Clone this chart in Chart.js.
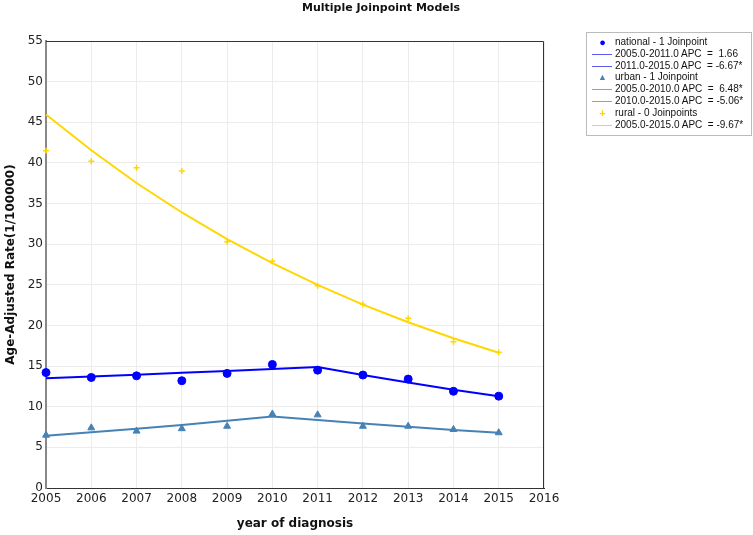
<!DOCTYPE html>
<html>
<head>
<meta charset="utf-8">
<script src="https://cdn.jsdelivr.net/npm/chart.js@4.4.0/dist/chart.umd.min.js"></script>
<style>
    body { margin: 0; background: #fff; }
    #wrap { position: relative; width: 753px; height: 535px; }
    #title { position: absolute; left: 302px; top: 1px; font: bold 11px "DejaVu Sans", Verdana, sans-serif; color: #111; }
    #legend { position: absolute; left: 586px; top: 32px; width: 164px; height: 102px; border: 1px solid #bbb;
              font: 10px "Liberation Sans", Arial, sans-serif; color: #111; }
    .row { position: absolute; left: 0; height: 12px; line-height: 12px; white-space: pre; }
    .sym { position: absolute; left: 6px; width: 19px; text-align: center; }
    .ln { position: absolute; left: 5px; top: 6px; width: 20px; height: 0; border-top: 1px solid; }
    .txt { position: absolute; left: 28px; }
</style>
</head>
<body>
<div id="wrap">
    <canvas id="jpChart" width="753" height="535"></canvas>
    <div id="title">Multiple Joinpoint Models</div>
    <div id="legend"></div>
</div>
<script>
const years = [2005, 2006, 2007, 2008, 2009, 2010, 2011, 2012, 2013, 2014, 2015];

const nationalObs = [14.2, 13.6, 13.8, 13.2, 14.1, 15.2, 14.5, 13.9, 13.4, 11.9, 11.3];
const nationalFit = [13.49, 13.71, 13.94, 14.17, 14.41, 14.65, 14.89, 13.90, 12.97, 12.10, 11.30];

const urbanObs = [6.5, 7.4, 7.0, 7.3, 7.6, 9.1, 9.0, 7.6, 7.6, 7.2, 6.8];
const urbanFit = [6.43, 6.85, 7.29, 7.76, 8.27, 8.80, 8.36, 7.93, 7.53, 7.15, 6.79];

const ruralObs = [41.5, 40.2, 39.4, 39.0, 30.3, 27.9, 24.9, 22.6, 20.9, 18.0, 16.7];
const ruralFit = [45.96, 41.55, 37.53, 33.90, 30.62, 27.66, 24.99, 22.57, 20.39, 18.42, 16.64];

const legendItems = [
    { kind: "sym", sym: "\u25CF", color: "#0000ff", text: "national - 1 Joinpoint" },
    { kind: "line", color: "#5b5bf0", text: "2005.0-2011.0 APC  =  1.66" },
    { kind: "line", color: "#5b5bf0", text: "2011.0-2015.0 APC  = -6.67*" },
    { kind: "sym", sym: "\u25B2", color: "#4682b4", text: "urban - 1 Joinpoint" },
    { kind: "line", color: "#7fa6c8", text: "2005.0-2010.0 APC  =  6.48*" },
    { kind: "line", color: "#7fa6c8", text: "2010.0-2015.0 APC  = -5.06*" },
    { kind: "sym", sym: "+", color: "#ffd700", text: "rural - 0 Joinpoints" },
    { kind: "line", color: "#ffd700", text: "2005.0-2015.0 APC  = -9.67*" }
];

function pts(vals) {
    return years.map((y, i) => ({ x: y, y: vals[i] }));
}

function obsSet(vals, color, style, r) {
    return {
        type: "scatter", data: pts(vals), showLine: false, clip: false,
        pointStyle: style, pointRadius: r, pointBackgroundColor: color,
        pointBorderColor: color, pointBorderWidth: style === "cross" ? 1.5 : 1
    };
}

function fitSet(vals, color) {
    return {
        type: "line", data: pts(vals), borderColor: color, borderWidth: 2,
        pointRadius: 0, fill: false, tension: 0, clip: false
    };
}

// border on top and right of the plot
const frame = {
    id: "frame",
    afterDraw(chart) {
        const a = chart.chartArea, c = chart.ctx;
        c.save();
        c.strokeStyle = "#333";
        c.lineWidth = 1;
        c.beginPath();
        c.moveTo(a.left, a.top + 0.5);
        c.lineTo(a.right - 0.5, a.top + 0.5);
        c.lineTo(a.right - 0.5, a.bottom);
        c.stroke();
        c.restore();
    }
};

const ctx = document.getElementById("jpChart").getContext("2d");
new Chart(ctx, {
    data: {
        datasets: [
            fitSet(ruralFit, "#ffd700"),
            fitSet(urbanFit, "#4682b4"),
            fitSet(nationalFit, "#0000ff"),
            obsSet(ruralObs, "#ffd700", "cross", 3),
            obsSet(urbanObs, "#4682b4", "triangle", 4),
            obsSet(nationalObs, "#0000ff", "circle", 4)
        ]
    },
    options: {
        responsive: false,
        animation: false,
        layout: { padding: { top: 41, right: 209, left: 0, bottom: 0 } },
        plugins: { legend: { display: false }, tooltip: { enabled: false } },
        scales: {
            x: {
                type: "linear", min: 2005, max: 2016,
                afterFit: s => { s.height = 47; },
                ticks: { stepSize: 1, color: "#222", padding: 4, font: { family: "DejaVu Sans", size: 12 },
                         callback: v => String(v) },
                grid: { color: "#ececec", drawTicks: false },
                border: { color: "#333", width: 1 },
                title: { display: true, text: "year of diagnosis", color: "#111",
                         font: { family: "DejaVu Sans", size: 12, weight: "bold" }, padding: { top: 8 } }
            },
            y: {
                min: 0, max: 55,
                afterFit: s => { s.width = 46; },
                ticks: { stepSize: 5, color: "#222", padding: 3, font: { family: "DejaVu Sans", size: 12 } },
                grid: { color: "#ececec", drawTicks: false },
                border: { color: "#888", width: 2 },
                title: { display: true, text: "Age-Adjusted Rate(1/100000)", color: "#111",
                         font: { family: "DejaVu Sans", size: 12, weight: "bold" }, padding: { top: 4, bottom: 2 } }
            }
        }
    },
    plugins: [frame]
});

const leg = document.getElementById("legend");
legendItems.forEach((it, i) => {
    const row = document.createElement("div");
    row.className = "row";
    row.style.top = (3 + i * 11.8) + "px";
    row.style.width = "100%";
    if (it.kind === "sym") {
        const s = document.createElement("span");
        s.className = "sym";
        s.style.color = it.color;
        s.style.fontSize = it.sym === "+" ? "11px" : (it.sym === "\u25CF" ? "11px" : "9px");
        if (it.sym === "+") s.style.fontWeight = "bold";
        s.textContent = it.sym;
        row.appendChild(s);
    } else {
        const l = document.createElement("span");
        l.className = "ln";
        l.style.borderColor = it.color;
        row.appendChild(l);
    }
    const t = document.createElement("span");
    t.className = "txt";
    t.textContent = it.text;
    row.appendChild(t);
    leg.appendChild(row);
});
</script>
</body>
</html>
